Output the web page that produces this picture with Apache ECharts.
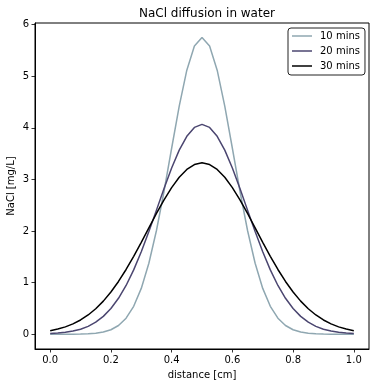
<!DOCTYPE html>
<html>
<head>
<meta charset="utf-8">
<script src="https://cdn.jsdelivr.net/npm/echarts@6/dist/echarts.min.js"></script>
<style>
  html, body { margin: 0; padding: 0; background: #fff; }
  #chart { width: 376px; height: 387px; }
</style>
</head>
<body>
<div id="chart"></div>
<script>
// distance along the tube, cm
var distance = [0, 0.025, 0.05, 0.075, 0.1, 0.125, 0.15, 0.175, 0.2, 0.225, 0.25, 0.275, 0.3, 0.325, 0.35, 0.375,
  0.4, 0.425, 0.45, 0.475, 0.5, 0.525, 0.55, 0.575, 0.6, 0.625, 0.65, 0.675, 0.7, 0.725, 0.75, 0.775,
  0.8, 0.825, 0.85, 0.875, 0.9, 0.925, 0.95, 0.975, 1.0];

var seriesNames = ["10 mins", "20 mins", "30 mins"];

var conc10 = [0.000, 0.000, 0.000, 0.001, 0.003, 0.008, 0.019, 0.041, 0.086, 0.168, 0.310, 0.540, 0.887, 1.375, 2.009, 2.770,
  3.603, 4.421, 5.116, 5.584, 5.750, 5.584, 5.116, 4.421, 3.603, 2.770, 2.009, 1.375, 0.887, 0.540, 0.310, 0.168,
  0.086, 0.041, 0.019, 0.008, 0.003, 0.001, 0.000, 0.000, 0.000];
var conc20 = [0.012, 0.021, 0.036, 0.060, 0.097, 0.152, 0.232, 0.345, 0.497, 0.695, 0.944, 1.246, 1.597, 1.988, 2.404, 2.823,
  3.219, 3.566, 3.835, 4.007, 4.066, 4.007, 3.835, 3.566, 3.219, 2.823, 2.404, 1.988, 1.597, 1.246, 0.944, 0.695,
  0.497, 0.345, 0.232, 0.152, 0.097, 0.060, 0.036, 0.021, 0.012];
var conc30 = [0.068, 0.099, 0.142, 0.199, 0.275, 0.372, 0.493, 0.641, 0.817, 1.022, 1.254, 1.509, 1.781, 2.060, 2.339, 2.603,
  2.841, 3.042, 3.193, 3.288, 3.320, 3.288, 3.193, 3.042, 2.841, 2.603, 2.339, 2.060, 1.781, 1.509, 1.254, 1.022,
  0.817, 0.641, 0.493, 0.372, 0.275, 0.199, 0.142, 0.099, 0.068];

var xTicks = [0, 0.2, 0.4, 0.6, 0.8, 1.0];
var yTicks = [0, 1, 2, 3, 4, 5, 6];

var colors = ["#8fa7b1", "#4b4670", "#000000"];
var font = "DejaVu Sans";

function pairs(ys) {
  return distance.map(function (x, i) { return [x, ys[i]]; });
}

var allConc = [conc10, conc20, conc30];
var series = allConc.map(function (ys, i) {
  return {
    name: seriesNames[i],
    type: "line",
    data: pairs(ys),
    symbol: "none",
    smooth: false,
    lineStyle: { width: 1.5, color: colors[i] },
    itemStyle: { color: colors[i] }
  };
});

var option = {
  animation: false,
  backgroundColor: "#fff",
  title: {
    text: "NaCl diffusion in water",
    left: 202,
    textAlign: "center",
    top: 3,
    textStyle: { fontFamily: font, fontSize: 12, fontWeight: "normal", color: "#000" }
  },
  legend: {
    orient: "vertical",
    left: 288,
    top: 28,
    padding: [3, 5, 4, 4],
    icon: "rect",
    itemWidth: 20,
    itemHeight: 1.5,
    itemGap: 5,
    borderColor: "#222",
    borderWidth: 1,
    borderRadius: 3,
    data: seriesNames,
    textStyle: { fontFamily: font, fontSize: 10, lineHeight: 10, color: "#000", padding: [0, 0, 0, 3] }
  },
  grid: {
    left: 35,
    right: 7,
    top: 23,
    bottom: 38,
    show: true,
    borderColor: "#000",
    borderWidth: 1,
    containLabel: false,
    outerBoundsMode: "none"
  },
  xAxis: {
    type: "value",
    min: -0.05,
    max: 1.05,
    name: "distance [cm]",
    nameLocation: "middle",
    nameGap: 21,
    nameMoveOverlap: false,
    nameTextStyle: { fontFamily: font, fontSize: 10, color: "#000" },
    axisLine: { show: true, onZero: false, lineStyle: { color: "#000", width: 1 } },
    axisTick: { show: true, inside: false, customValues: xTicks, length: 3.5, lineStyle: { color: "#000", width: 0.8 } },
    axisLabel: {
      customValues: xTicks,
      margin: 6,
      fontFamily: font, fontSize: 10, color: "#000",
      formatter: function (v) { return v.toFixed(1); }
    },
    splitLine: { show: false }
  },
  yAxis: {
    type: "value",
    min: -0.287,
    max: 6.03,
    name: "NaCl [mg/L]",
    nameLocation: "middle",
    nameGap: 19,
    nameMoveOverlap: false,
    nameTextStyle: { fontFamily: font, fontSize: 10, color: "#000" },
    axisLine: { show: true, onZero: false, lineStyle: { color: "#000", width: 1 } },
    axisTick: { show: true, inside: false, customValues: yTicks, length: 3.5, lineStyle: { color: "#000", width: 0.8 } },
    axisLabel: {
      customValues: yTicks,
      margin: 6,
      fontFamily: font, fontSize: 10, color: "#000",
      formatter: function (v) { return String(Math.round(v)); }
    },
    splitLine: { show: false }
  },
  series: series
};

var chart = echarts.init(document.getElementById("chart"), null, { renderer: "canvas" });
chart.setOption(option);
</script>
</body>
</html>
